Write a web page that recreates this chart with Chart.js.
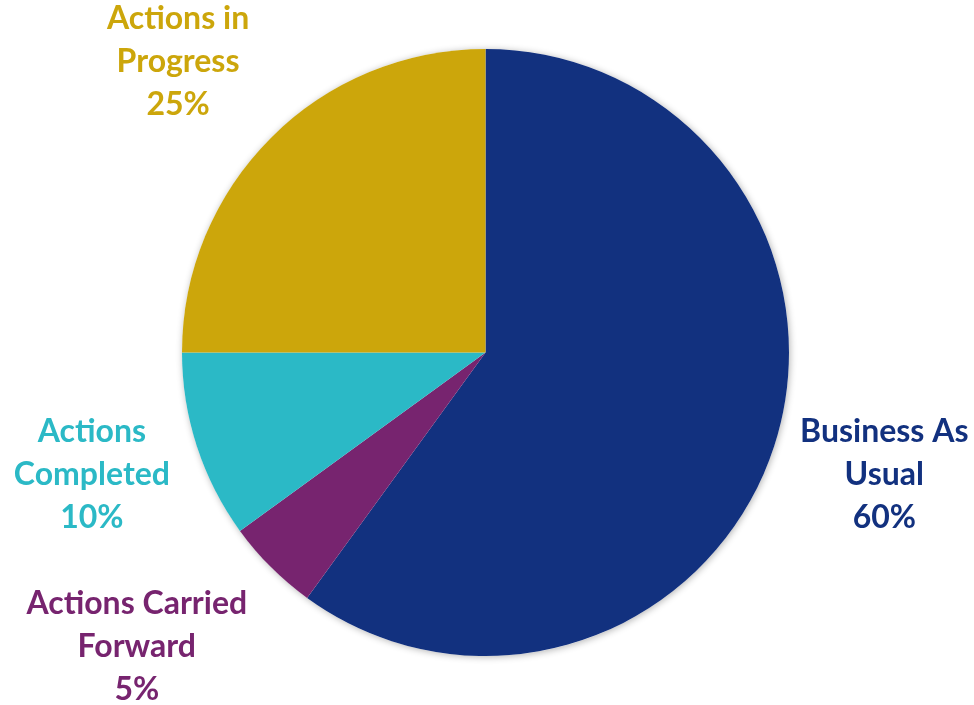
<!DOCTYPE html>
<html>
<head>
<meta charset="utf-8">
<script src="https://cdn.jsdelivr.net/npm/chart.js@4.4.1/dist/chart.umd.min.js"></script>
<style>
  html, body { margin: 0; padding: 0; background: #ffffff; }
  #wrap { width: 974px; height: 705px; position: relative; }
</style>
</head>
<body>
<div id="wrap"><canvas id="pieChart"></canvas></div>
<script>
// chart data
const categories = ["Business As Usual", "Actions Carried Forward", "Actions Completed", "Actions in Progress"];
const shares = [60, 5, 10, 25];
const labelLines = [
    ["Business As", "Usual"],
    ["Actions Carried", "Forward"],
    ["Actions", "Completed"],
    ["Actions in", "Progress"]
];
const colors = ["#12317F", "#77246F", "#2BB9C6", "#CCA60B"];

// label anchor, in pie radii from the centre
const labelAnchor = [[1.314, 0.403], [-1.149, 0.970], [-1.297, 0.403], [-1.013, -0.957]];

const pieShadow = {
    id: "pieShadow",
    beforeDatasetsDraw(chart) {
        const arc = chart.getDatasetMeta(0).data[0];
        if (!arc) return;
        const ctx = chart.ctx;
        ctx.save();
        ctx.shadowColor = "rgba(0,0,0,0.30)";
        ctx.shadowBlur = 7;
        ctx.shadowOffsetX = 1;
        ctx.shadowOffsetY = 1;
        ctx.fillStyle = "#ffffff";
        ctx.beginPath();
        ctx.arc(arc.x, arc.y, arc.outerRadius, 0, Math.PI * 2);
        ctx.fill();
        ctx.restore();
    }
};

const outsideLabels = {
    id: "outsideLabels",
    afterDatasetsDraw(chart) {
        const ctx = chart.ctx;
        const meta = chart.getDatasetMeta(0);
        ctx.save();
        ctx.font = "bold 32px Lato";
        ctx.textAlign = "center";
        ctx.textBaseline = "middle";
        meta.data.forEach((arc, i) => {
            const r = arc.outerRadius;
            const cx = arc.x + labelAnchor[i][0] * r;
            const cy = arc.y + labelAnchor[i][1] * r;
            const lines = labelLines[i].concat([shares[i] + "%"]);
            ctx.fillStyle = colors[i];
            lines.forEach((t, k) => {
                ctx.fillText(t, cx, cy + (k - 1) * 43);
            });
        });
        ctx.restore();
    }
};

new Chart(document.getElementById("pieChart"), {
    type: "pie",
    data: {
        labels: categories,
        datasets: [{
            data: shares,
            backgroundColor: colors,
            borderWidth: 0
        }]
    },
    options: {
        responsive: true,
        maintainAspectRatio: false,
        animation: false,
        layout: { padding: { top: 49, bottom: 49, left: 182, right: 185 } },
        plugins: {
            legend: { display: false },
            tooltip: { enabled: false }
        }
    },
    plugins: [pieShadow, outsideLabels]
});
</script>
</body>
</html>
